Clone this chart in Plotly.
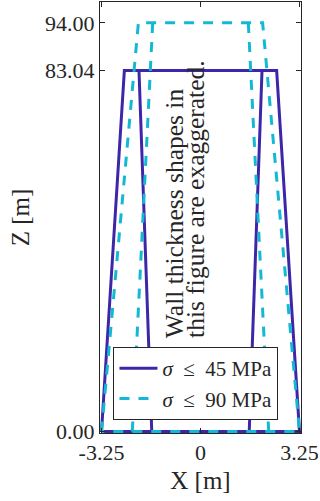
import plotly.graph_objects as go

# Tower wall outlines (radius in m, height in m) for two stress limits
series_names = ["<i>σ</i>\u2002≤\u200245 MPa", "<i>σ</i>\u2002≤\u200290 MPa"]
tower_height = [83.04, 94.00]
outer_base = [3.25, 3.25]
outer_top = [2.50, 2.04]
inner_base = [1.60, 2.24]
inner_top = [2.02, 1.57]
line_colors = ["#3E26A8", "#13B9D4"]
line_dashes = ["solid", "10px,9px"]

x_ticks = [-3.25, 0, 3.25]
x_tick_text = ["-3.25", "0", "3.25"]
z_ticks = [0.00, 83.04, 94.00]
z_tick_text = ["0.00", "83.04", "94.00"]

note_lines = ["Wall thickness shapes in", "this figure are exaggerated."]

INK = "#262626"
FONT = "'Liberation Serif', 'Times New Roman', 'DejaVu Serif', serif"

fig = go.Figure()

for name, h, ob, ot, ib, it, col, dash in zip(series_names, tower_height, outer_base,
                                               outer_top, inner_base, inner_top,
                                               line_colors, line_dashes):
    # outer trapezoid, then the two inner wall faces
    xs = [-ob, -ot, ot, ob, -ob, None, -ib, -it, None, ib, it]
    zs = [0, h, h, 0, 0, None, 0, h, None, 0, h]
    fig.add_trace(go.Scatter(
        x=xs, y=zs, mode="lines", name=name,
        line=dict(color=col, width=3, dash=dash),
        connectgaps=False,
    ))

# rotated note, one annotation per line, both starting at the same height
note_x = [-0.87, -0.19]
for txt, nx in zip(note_lines, note_x):
    fig.add_annotation(
        x=nx, y=21.0, xref="x", yref="y", text=txt, showarrow=False,
        textangle=-90, xanchor="center", yanchor="bottom",
        font=dict(family=FONT, size=25.5, color=INK),
    )

axis_common = dict(
    ticks="inside", ticklen=5, tickwidth=1, tickcolor=INK,
    showline=True, linecolor=INK, linewidth=1, mirror="ticks",
    showgrid=False, zeroline=False,
    tickfont=dict(family=FONT, size=22, color=INK),
)

fig.update_layout(
    width=320, height=501,
    margin=dict(l=100, r=19, t=2, b=68),
    paper_bgcolor="white", plot_bgcolor="white",
    font=dict(family=FONT, color=INK),
    xaxis=dict(range=[-3.30, 3.30], tickvals=x_ticks, ticktext=x_tick_text,
               title=dict(text="X [m]", font=dict(family=FONT, size=25, color=INK), standoff=7),
               **axis_common),
    yaxis=dict(range=[-0.35, 98.8], tickvals=z_ticks, ticktext=z_tick_text,
               title=dict(text="Z [m]", font=dict(family=FONT, size=25, color=INK), standoff=8),
               **axis_common),
    legend=dict(
        x=0.067, y=0.1995, xanchor="left", yanchor="top",
        bgcolor="white", bordercolor=INK, borderwidth=1,
        font=dict(family=FONT, size=21, color=INK),
        itemwidth=38,
        tracegroupgap=0,
    ),
    showlegend=True,
)

fig.write_html("out.html")
